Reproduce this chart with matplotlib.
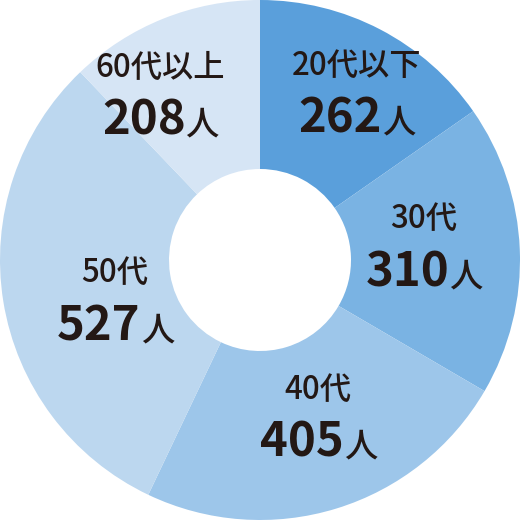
import numpy as np
import matplotlib
matplotlib.use("Agg")
import matplotlib.pyplot as plt

plt.rcParams['font.family'] = ['Noto Sans CJK JP', 'DejaVu Sans']

# データ
categories = ['20代以下', '30代', '40代', '50代', '60代以上']
counts = [262, 310, 405, 527, 208]
colors = ['#5a9fdb', '#7ab3e3', '#9dc6ea', '#bcd7ef', '#d6e5f5']
label_r = [0.71, 0.63, 0.68, 0.59, 0.71]     # ラベル位置（半径）
label_dang = [4, 1, -2, -10, -11]            # ラベル位置（角度のずれ, 度）

fig = plt.figure(figsize=(5.2, 5.2), dpi=100)
ax = fig.add_axes([0, 0, 1, 1])

wedges, _ = ax.pie(counts, colors=colors, startangle=90, counterclock=False,
                   radius=1.0, wedgeprops=dict(width=0.65, linewidth=0))
ax.set_xlim(-1, 1)
ax.set_ylim(-1, 1)
ax.set_aspect('equal')
ax.axis('off')

txt_color = '#231815'
for w, cat, n, r, da in zip(wedges, categories, counts, label_r, label_dang):
    ang = np.deg2rad((w.theta1 + w.theta2) / 2 - da)
    x, y = r * np.cos(ang), r * np.sin(ang)
    ax.text(x, y + 0.142, cat, ha='center', va='center', fontsize=22.5,
            fontweight='medium', color=txt_color)
    num = ax.text(x - 0.062, y - 0.115, str(n), ha='center', va='baseline',
                  fontsize=34, fontweight='bold', color=txt_color)
    ax.annotate('人', xy=(1, y - 0.115), xycoords=(num, 'data'),
                ha='left', va='baseline', fontsize=24, fontweight='medium',
                color=txt_color)

fig.savefig('out.png', dpi=100)
